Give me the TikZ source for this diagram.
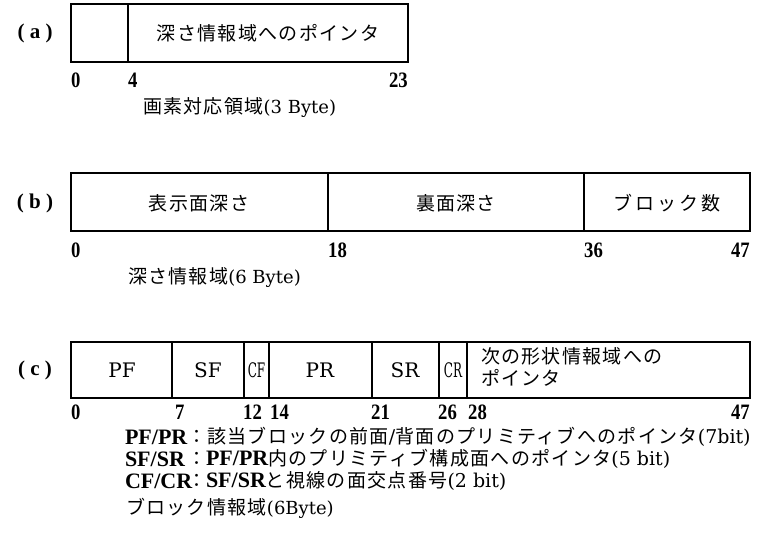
\documentclass[tikz,border=0pt]{standalone}
\usepackage{fontspec}
\usepackage{graphicx}
\setmainfont{DejaVu Serif}
\newfontfamily\jpf{Noto Sans CJK JP}[LetterSpace=7]
\newfontfamily\latf{DejaVu Serif}
\newfontfamily\numf{Liberation Serif}
\newcommand\jt[1]{{\jpf\fontsize{19}{22}\selectfont #1}}
\newcommand\lt[1]{{\latf\fontsize{20}{23}\selectfont #1}}
\newcommand\ltc[1]{{\latf\fontsize{18}{21}\selectfont #1}}
\newcommand\ltb[1]{{\numf\bfseries\fontsize{22}{24}\selectfont #1}}
\newcommand\lts[1]{{\latf\fontsize{19}{22}\selectfont #1}}
\newcommand\nm[1]{\scalebox{0.85}[1]{\numf\bfseries\fontsize{22}{24}\selectfont #1}}
\tikzset{
  frame/.style={line width=2.4pt},
  divline/.style={line width=2pt},
  plain/.style={inner sep=0pt, outer sep=0pt},
  numlab/.style={inner sep=0pt},
  partlab/.style={inner sep=0pt, font=\numf\bfseries\fontsize{21}{24}\selectfont},
}
\begin{document}
\begin{tikzpicture}[x=1pt,y=-1pt]
\useasboundingbox[fill=white] (0,0) rectangle (762,554);

% ---------- (a)
\node[partlab] (pa) at (35,33) {( a )};
\draw[frame] (71,4) rectangle (408,62);
\draw[divline] (128,4) -- (128,62);
\node[plain] (ta) at (268,33) {\jt{深さ情報域へのポインタ}};
\node[numlab,anchor=west] (a0) at (71,80) {\nm{0}};
\node[numlab,anchor=west] (a4) at (128,80) {\nm{4}};
\node[numlab,anchor=east] (a23) at (408,80) {\nm{23}};
\node[plain,anchor=west] (ca) at (143,108) {\jt{画素対応領域}\ltc{(3 Byte)}};

% ---------- (b)
\node[partlab] (pb) at (35,203) {( b )};
\draw[frame] (71,173) rectangle (750,231);
\draw[divline] (328,173) -- (328,231);
\draw[divline] (584,173) -- (584,231);
\node[plain] (tb1) at (199,203) {\jt{表示面深さ}};
\node[plain] (tb2) at (456,203) {\jt{裏面深さ}};
\node[plain] (tb3) at (667,203) {\jt{ブ\,ロ\,ッ\,ク\,数}};
\node[numlab,anchor=west] (b0) at (71,250) {\nm{0}};
\node[numlab,anchor=west] (b18) at (328,250) {\nm{18}};
\node[numlab,anchor=west] (b36) at (584,250) {\nm{36}};
\node[numlab,anchor=east] (b47) at (750,250) {\nm{47}};
\node[plain,anchor=west] (cb) at (128,278) {\jt{深さ情報域}\ltc{(6 Byte)}};

% ---------- (c)
\node[partlab] (pc) at (35,370) {( c )};
\draw[frame] (71,342) rectangle (750,398);
\foreach \xx in {172,244,269,372,439,467} \draw[divline] (\xx,342) -- (\xx,398);
\node[plain] (tc1) at (122,370) {\lt{PF}};
\node[plain] (tc2) at (208,370) {\lt{SF}};
\node[plain] (tc3) at (256.5,370) {\scalebox{0.6}[1]{\lt{CF}}};
\node[plain] (tc4) at (320,370) {\lt{PR}};
\node[plain] (tc5) at (405,370) {\lt{SR}};
\node[plain] (tc6) at (453,370) {\scalebox{0.6}[1]{\lt{CR}}};
\node[plain,anchor=west] (tc7a) at (481,356) {\jt{次の形状情報域への}};
\node[plain,anchor=west] (tc7b) at (481,378) {\jt{ポインタ}};
\node[numlab,anchor=west] (c0) at (71,412) {\nm{0}};
\node[numlab,anchor=west] (c7) at (175,412) {\nm{7}};
\node[numlab,anchor=west] (c12) at (243,412) {\nm{12}};
\node[numlab,anchor=west] (c14) at (270,412) {\nm{14}};
\node[numlab,anchor=west] (c21) at (371,412) {\nm{21}};
\node[numlab,anchor=west] (c26) at (438,412) {\nm{26}};
\node[numlab,anchor=west] (c28) at (468,412) {\nm{28}};
\node[numlab,anchor=east] (c47) at (750,412) {\nm{47}};

% ---------- legend
\node[plain,anchor=west] (l1a) at (125,437) {\ltb{PF/PR}};
\node[plain,anchor=west] (l1b) at (187,437) {\jt{：該当ブロックの前面}\lts{/}\jt{背面のプリミティブへのポインタ}\lts{(7bit)}};
\node[plain,anchor=west] (l2a) at (125,459) {\ltb{SF/SR}};
\node[plain,anchor=west] (l2b) at (187,459) {\jt{：}\ltb{PF/PR}\jt{内のプリミティブ構成面へのポインタ}\lts{(5 bit)}};
\node[plain,anchor=west] (l3a) at (125,481) {\ltb{CF/CR}};
\node[plain,anchor=west] (l3b) at (187,481) {\jt{：}\ltb{SF/SR}\jt{と視線の面交点番号}\lts{(2 bit)}};
\node[plain,anchor=west] (l4) at (126,508) {\jt{ブロック情報域}\ltc{(6Byte)}};
\end{tikzpicture}
\end{document}
